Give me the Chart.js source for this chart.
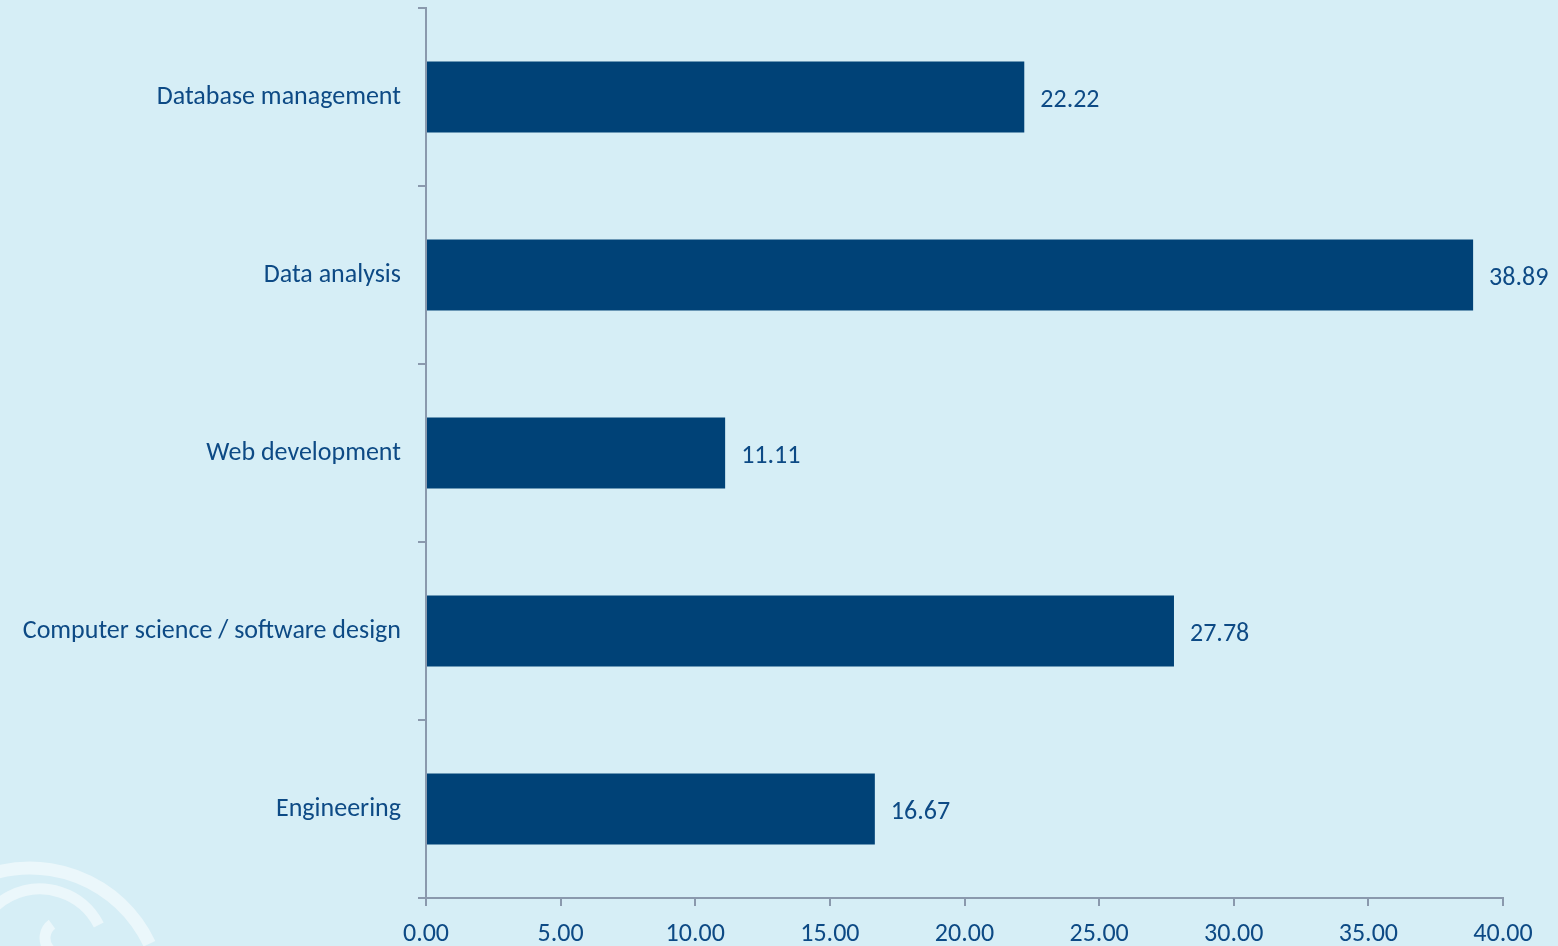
<!DOCTYPE html>
<html>
<head>
<meta charset="utf-8">
<script src="https://cdn.jsdelivr.net/npm/chart.js@4/dist/chart.umd.min.js"></script>
<style>
  html, body { margin: 0; padding: 0; background: #d6eef6; }
  #wrap { width: 1558px; height: 946px; position: relative; }
</style>
</head>
<body>
<div id="wrap"><canvas id="skillsChart"></canvas></div>
<script>
const categories = [
    'Database management',
    'Data analysis',
    'Web development',
    'Computer science / software design',
    'Engineering'
];
const shares = [22.22, 38.89, 11.11, 27.78, 16.67];
const xTicks = [0, 5, 10, 15, 20, 25, 30, 35, 40];

const textColor = '#0d4a85';
const axisColor = '#8a99ad';
const fontFamily = 'Carlito, Lato, "Open Sans", sans-serif';
const fontSize = 26;

// faint wave logo in the lower left corner
const waveLogo = {
    id: 'waveLogo',
    beforeDraw(chart) {
        const c = chart.ctx;
        c.save();
        c.strokeStyle = 'rgba(255,255,255,0.5)';
        c.lineCap = 'butt';
        c.lineWidth = 13;
        c.beginPath();
        c.arc(30, 1000, 132, Math.PI * 1.3, Math.PI * 1.86);
        c.stroke();
        c.lineWidth = 11;
        c.beginPath();
        c.arc(40, 955, 66, Math.PI * 1.1, Math.PI * 1.85);
        c.stroke();
        c.beginPath();
        c.arc(62, 938, 17, Math.PI * 1.3, Math.PI * 0.7, true);
        c.stroke();
        c.restore();
    }
};

// value labels to the right of each bar
const barValues = {
    id: 'barValues',
    afterDatasetsDraw(chart) {
        const c = chart.ctx;
        const meta = chart.getDatasetMeta(0);
        c.save();
        c.fillStyle = textColor;
        c.font = fontSize + 'px ' + fontFamily;
        c.textAlign = 'left';
        c.textBaseline = 'middle';
        meta.data.forEach((bar, i) => {
            c.fillText(shares[i].toFixed(2), bar.x + 16, bar.y + 3);
        });
        c.restore();
    }
};

const ctx = document.getElementById('skillsChart');
new Chart(ctx, {
    type: 'bar',
    data: {
        labels: categories,
        datasets: [{
            data: shares,
            backgroundColor: '#004277',
            categoryPercentage: 1,
            barPercentage: 0.4
        }]
    },
    options: {
        indexAxis: 'y',
        responsive: true,
        maintainAspectRatio: false,
        animation: false,
        layout: { padding: { top: 8, right: 55, left: 0, bottom: 0 } },
        plugins: {
            legend: { display: false },
            tooltip: { enabled: false }
        },
        scales: {
            x: {
                min: 0,
                max: 40,
                afterBuildTicks(scale) {
                    scale.ticks = xTicks.map(v => ({ value: v }));
                },
                afterFit(scale) {
                    scale.height = 48;
                    scale.paddingLeft = 0;
                    scale.paddingRight = 0;
                },
                border: { color: axisColor, width: 2 },
                grid: {
                    drawOnChartArea: false,
                    color: axisColor,
                    lineWidth: 2,
                    tickLength: 8
                },
                ticks: {
                    color: textColor,
                    font: { family: fontFamily, size: fontSize },
                    padding: 13,
                    maxRotation: 0,
                    callback: v => Number(v).toFixed(2)
                }
            },
            y: {
                afterFit(scale) {
                    scale.width = 426;
                    scale.paddingTop = 0;
                    scale.paddingBottom = 0;
                },
                border: { color: axisColor, width: 2 },
                grid: {
                    drawOnChartArea: false,
                    color: axisColor,
                    lineWidth: 2,
                    tickLength: 8,
                    offset: true
                },
                ticks: {
                    color: textColor,
                    font: { family: fontFamily, size: fontSize },
                    padding: 17
                }
            }
        }
    },
    plugins: [waveLogo, barValues]
});
</script>
</body>
</html>
